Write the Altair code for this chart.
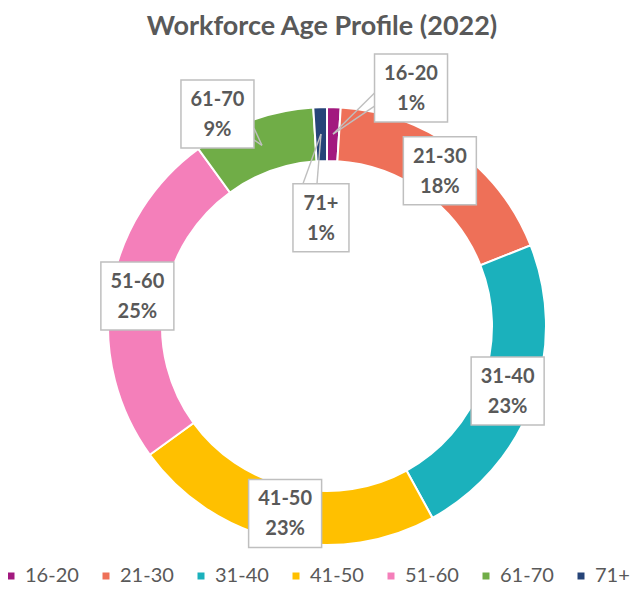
import altair as alt
import pandas as pd

# ---- data ----
ages = ["16-20", "21-30", "31-40", "41-50", "51-60", "61-70", "71+"]
shares = [1, 18, 23, 23, 25, 9, 1]
colors = ["#A2197F", "#EE7058", "#1BB1BC", "#FFC000", "#F47FBA", "#70AD47", "#264478"]

df = pd.DataFrame({"age": ages, "share": shares, "order": list(range(len(ages)))})

# ---- layout ----
W, H = 628, 508
CX, CY = 319, 273
R_OUT, R_IN = 219, 165
R_LAB = 192
TXT = "#595959"
BOX = "#BFBFBF"

# label nudges (pixels) for the labels that Excel moved off the ring
nudge = {"16-20": (78, -46), "61-70": (-44.5, -31.4), "71+": (0, 83.7)}
# callout tails: two base points relative to the label centre
tails = {
    "16-20": ((-36.5, 5), (-36.5, 18)),
    "61-70": ((36.5, 14), (36.5, 26)),
    "71+": ((-18, -34), (-4, -34)),
}


def case(mapping, getter, default=0):
    expr = str(default)
    for k, v in mapping.items():
        expr = f"datum.age === '{k}' ? {getter(v)} : ({expr})"
    return expr


base = alt.Chart(df)

arcs = base.mark_arc(outerRadius=R_OUT, innerRadius=R_IN, stroke="white", strokeWidth=2).encode(
    theta=alt.Theta("share:Q", stack=True),
    color=alt.Color(
        "age:N",
        scale=alt.Scale(domain=ages, range=colors),
        sort=ages,
        legend=alt.Legend(
            orient="none",
            legendX=-7,
            legendY=513,
            direction="horizontal",
            title=None,
            symbolType="square",
            symbolSize=49,
            symbolStrokeWidth=0,
            symbolOpacity=1,
            labelFont="Lato",
            labelFontSize=20,
            labelColor=TXT,
            labelOffset=4,
            columnPadding=17,
            padding=0,
        ),
    ),
    order=alt.Order("order:Q"),
    x=alt.value(CX),
    y=alt.value(CY),
)

pos = base.transform_window(
    cum="sum(share)", sort=[alt.SortField("order")]
).transform_calculate(
    ang="2*PI*(datum.cum - datum.share/2)/100",
    ax=f"{CX} + {R_LAB}*sin(datum.ang)",
    ay=f"{CY} - {R_LAB}*cos(datum.ang)",
    lx="datum.ax + (" + case(nudge, lambda v: v[0]) + ")",
    ly="datum.ay + (" + case(nudge, lambda v: v[1]) + ")",
    hw="datum.age === '71+' ? 28 : 36.5",
    bx1="datum.lx - datum.hw",
    bx2="datum.lx + datum.hw",
    by1="datum.ly - 34",
    by2="datum.ly + 34",
    label="datum.age + '\\n' + datum.share + '%'",
)

tail_src = pos.transform_filter(
    alt.FieldOneOfPredicate(field="age", oneOf=list(tails.keys()))
).transform_calculate(
    t1x="datum.lx + (" + case(tails, lambda v: v[0][0]) + ")",
    t1y="datum.ly + (" + case(tails, lambda v: v[0][1]) + ")",
    t2x="datum.lx + (" + case(tails, lambda v: v[1][0]) + ")",
    t2y="datum.ly + (" + case(tails, lambda v: v[1][1]) + ")",
)

tail1 = tail_src.mark_rule(color=BOX, strokeWidth=1.4).encode(
    x=alt.X("t1x:Q", scale=None, axis=None),
    y=alt.Y("t1y:Q", scale=None, axis=None),
    x2="ax:Q",
    y2="ay:Q",
)
tail2 = tail_src.mark_rule(color=BOX, strokeWidth=1.4).encode(
    x=alt.X("t2x:Q", scale=None, axis=None),
    y=alt.Y("t2y:Q", scale=None, axis=None),
    x2="ax:Q",
    y2="ay:Q",
)

boxes = pos.mark_rect(fill="white", stroke=BOX, strokeWidth=1.5).encode(
    x=alt.X("bx1:Q", scale=None, axis=None),
    x2="bx2:Q",
    y=alt.Y("by1:Q", scale=None, axis=None),
    y2="by2:Q",
)

texts = pos.mark_text(
    font="Lato",
    fontSize=20,
    fontWeight="bold",
    color=TXT,
    lineBreak="\n",
    lineHeight=30,
    align="center",
    baseline="middle",
    dy=-14,
).encode(
    x=alt.X("lx:Q", scale=None, axis=None),
    y=alt.Y("ly:Q", scale=None, axis=None),
    text="label:N",
)

chart = (
    alt.layer(arcs, tail1, tail2, boxes, texts)
    .properties(
        width=W,
        height=H,
        background="white",
        autosize=alt.AutoSizeParams(type="none"),
        padding={"left": 0, "right": 0, "top": 45, "bottom": 24},
        title=alt.TitleParams(
            "Workforce Age Profile (2022)",
            font="Lato",
            fontSize=27,
            fontWeight="bold",
            color=TXT,
            anchor="middle",
            offset=12,
        ),
    )
    .configure_view(strokeWidth=0)
)

chart.save("out.html", embed_options={"renderer": "svg", "actions": False})
